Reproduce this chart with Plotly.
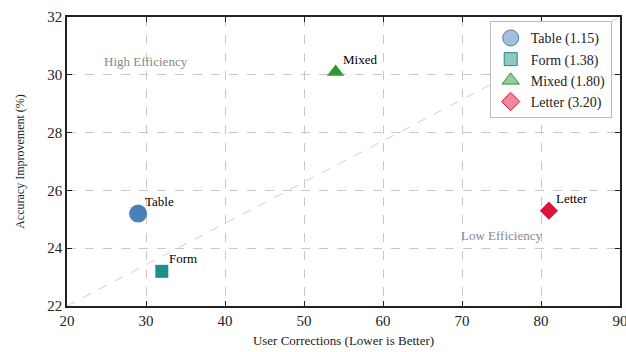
import plotly.graph_objects as go

names = ["Table", "Form", "Mixed", "Letter"]
ratios = ["1.15", "1.38", "1.80", "3.20"]
corrections = [29, 32, 54, 81]
improvement = [25.2, 23.2, 30.1, 25.3]
symbols = ["circle", "square", "triangle-up", "diamond"]
colors = ["#4a80b8", "#1f8f8a", "#2e9a2e", "#dc143c"]
light = ["rgba(74,128,184,0.5)", "rgba(31,143,138,0.5)", "rgba(46,154,46,0.5)", "rgba(220,20,60,0.5)"]
sizes = [18, 13, 15, 14]
xticks = [20, 30, 40, 50, 60, 70, 80, 90]
yticks = [22, 24, 26, 28, 30, 32]

FONT = "Liberation Serif"
fig = go.Figure()

# diagonal reference line
fig.add_trace(go.Scatter(x=[20, 90], y=[22, 32], mode="lines",
                         line=dict(color="#d0d0d0", width=1, dash="dash"),
                         showlegend=False, hoverinfo="skip"))

for i, n in enumerate(names):
    fig.add_trace(go.Scatter(x=[corrections[i]], y=[improvement[i]], mode="markers",
                             marker=dict(symbol=symbols[i], size=sizes[i], color=colors[i],
                                         line=dict(width=0)),
                             showlegend=False))
    fig.add_trace(go.Scatter(x=[None], y=[None], mode="markers",
                             name=f"{n} ({ratios[i]})",
                             marker=dict(symbol=symbols[i], size=sizes[i], color=light[i],
                                         line=dict(width=1, color=colors[i]))))
    fig.add_annotation(x=corrections[i], y=improvement[i], text=n, showarrow=False,
                       xanchor="left", yanchor="bottom", xshift=5, yshift=3,
                       font=dict(family=FONT, size=13, color="black"))

fig.add_annotation(x=30, y=30.45, text="High Efficiency", showarrow=False,
                   font=dict(family=FONT, size=13, color="#888888"))
fig.add_annotation(x=75, y=24.45, text="Low Efficiency", showarrow=False,
                   font=dict(family=FONT, size=13, color="#888888"))

axis_common = dict(showline=True, linecolor="#222", linewidth=1.5, mirror="ticks",
                   ticks="inside", ticklen=5, tickcolor="#222", automargin=False,
                   ticklabeloverflow="allow",
                   showgrid=True, gridcolor="#c8c8c8", griddash="dash", gridwidth=1,
                   zeroline=False, tickfont=dict(family=FONT, size=15, color="#222"))

fig.update_xaxes(range=[20, 90], tickvals=xticks, ticklabelstandoff=0,
                 title=dict(text="User Corrections (Lower is Better)",
                            font=dict(family=FONT, size=13, color="#222"), standoff=8),
                 **axis_common)
fig.update_yaxes(range=[22, 32], tickvals=yticks, ticklabelstandoff=0,
                 title=dict(text="Accuracy Improvement (%)",
                            font=dict(family=FONT, size=12, color="#222"), standoff=20),
                 **axis_common)

fig.update_layout(width=626, height=352, plot_bgcolor="white", paper_bgcolor="white",
                  margin=dict(l=67, r=6, t=17, b=46),
                  legend=dict(x=0.985, y=0.985, xanchor="right", yanchor="top",
                              bgcolor="white", bordercolor="#bbbbbb", borderwidth=1,
                              font=dict(family=FONT, size=14, color="#222"),
                              itemwidth=30, tracegroupgap=0))

fig.write_html("out.html", config={"displayModeBar": False},
               post_script="document.body.style.margin='0';")
